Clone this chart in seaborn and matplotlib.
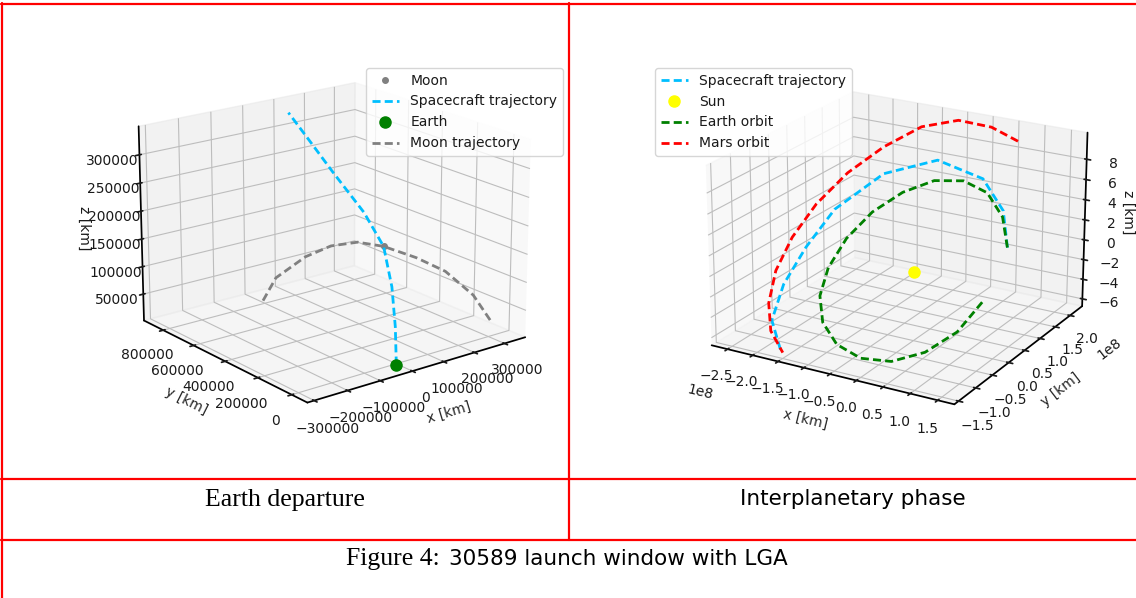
import matplotlib
matplotlib.use("Agg")
import matplotlib.pyplot as plt
from matplotlib.lines import Line2D
import numpy as np
import seaborn as sns

W, H = 1136, 598

# ---------------- Earth departure (km) ----------------
sc_x = [0, 63000, 118000, 140700, 152000, 129000, 122000, 137000]
sc_y = [0, 120000, 240000, 331400, 470000, 620000, 760000, 910000]
sc_z = [0, 40000, 87000, 145000, 188000, 248000, 294000, 323000]

moon_x = [-314900, -221600, -99200, -12600, 68700, 140700, 221600, 283700, 331400, 352100]
moon_y = [174500, 283700, 346100, 359800, 353400, 331400, 283700, 221700, 140700, 74800]
moon_z = [137000, 148000, 159000, 164000, 160000, 145000, 119000, 93000, 53000, 12000]

moon_pos = [140700, 331400, 145000]
earth_pos = [0, 0, 0]

# ---------------- Interplanetary phase ----------------
# heliocentric longitude [deg], radius [km], height (z axis units)
earth_th = [30, 50, 70, 90, 110, 130, 150, 170, 190, 210, 230, 250, 270, 290, 310, 330, 350]
earth_r = 1.50e8
earth_z = [2.2, 4.0, 5.4, 5.9, 5.6, 4.5, 3.0, 1.2, -0.6, -2.1, -3.4, -4.4, -4.9, -4.8, -4.0, -2.6, -0.5]

mars_th = [75, 90, 105, 120, 135, 150, 165, 180, 195, 210, 225, 240]
mars_r = [2.31e8, 2.37e8, 2.41e8, 2.44e8, 2.45e8, 2.44e8, 2.42e8, 2.38e8, 2.35e8, 2.32e8, 2.30e8, 2.28e8]
mars_z = [9.0, 9.6, 9.8, 9.0, 7.2, 5.2, 3.0, 0.9, -1.0, -2.7, -3.9, -4.6]

tr_th = [30, 50, 78, 110, 138, 162, 178, 195, 215, 238]
tr_r = [1.50e8, 1.51e8, 1.60e8, 1.75e8, 1.94e8, 2.08e8, 2.16e8, 2.22e8, 2.26e8, 2.28e8]
tr_z = [2.2, 4.6, 6.3, 7.1, 5.6, 2.8, 0.0, -2.3, -3.9, -4.6]

sun_pos = [0, 0, 0]


def polar_to_xy(th_deg, r):
    th = np.radians(th_deg)
    return np.asarray(r) * np.cos(th), np.asarray(r) * np.sin(th)


sns.set_theme(style="white", rc={
    "axes.grid": True,
    "grid.color": "#bdbdbd",
    "grid.linewidth": 0.8,
    "axes.edgecolor": "black",
    "text.color": "0.1",
    "xtick.color": "0.1",
    "ytick.color": "0.1",
    "xtick.bottom": True,
    "ytick.left": True,
    "font.size": 10,
    "xtick.labelsize": 10,
    "ytick.labelsize": 10,
    "axes.labelsize": 10,
    "legend.fontsize": 10,
})
plt.rcParams["font.family"] = ["DejaVu Sans"]

fig = plt.figure(figsize=(W / 100, H / 100), dpi=100)


def px_square(cx, cy, size):
    return [(cx - size / 2) / W, 1 - (cy + size / 2) / H, size / W, size / H]


LW = 2.0
DASH = (2.9, 1.5)

# ---- left panel ----
ax1 = fig.add_axes(px_square(327, 238, 428), projection="3d")
ax1.plot([moon_pos[0]], [moon_pos[1]], [moon_pos[2]], "o", color="gray", ms=4, label="Moon")
ax1.plot(sc_x, sc_y, sc_z, "--", dashes=DASH, color="deepskyblue", lw=LW, label="Spacecraft trajectory")
ax1.plot([earth_pos[0]], [earth_pos[1]], [earth_pos[2]], "o", color="green", ms=8, label="Earth")
ax1.plot(moon_x, moon_y, moon_z, "--", dashes=DASH, color="gray", lw=LW, label="Moon trajectory")
ax1.set_xlim(-320000, 370000)
ax1.set_ylim(-90000, 930000)
ax1.set_zlim(1500, 350000)
ax1.set_xticks(range(-300000, 300001, 100000))
ax1.set_yticks(range(0, 800001, 200000))
ax1.set_zticks(range(50000, 300001, 50000))
ax1.set_xlabel("x [km]")
ax1.set_ylabel("y [km]")
ax1.set_zlabel("")
ax1.view_init(elev=18.5, azim=-128)
ax1.grid(True)
ax1.legend(loc="upper right", bbox_to_anchor=(563 / W, 1 - 68 / H),
           bbox_transform=fig.transFigure, borderaxespad=0)
fig.text(84 / W, 1 - 228 / H, "z [km]", rotation=270, ha="center", va="center", fontsize=10)

# ---- right panel ----
ex, ey = polar_to_xy(earth_th, earth_r)
mx, my = polar_to_xy(mars_th, mars_r)
tx, ty = polar_to_xy(tr_th, tr_r)

ax2 = fig.add_axes(px_square(895, 244, 420), projection="3d")
ax2.set_box_aspect((4, 4, 2.75))
ax2.plot(tx, ty, tr_z, "--", dashes=DASH, color="deepskyblue", lw=LW, label="Spacecraft trajectory")
ax2.plot([sun_pos[0]], [sun_pos[1]], [sun_pos[2]], "o", color="yellow", ms=8, label="Sun")
ax2.plot(ex, ey, earth_z, "--", dashes=DASH, color="green", lw=LW, label="Earth orbit")
ax2.plot(mx, my, mars_z, "--", dashes=DASH, color="red", lw=LW, label="Mars orbit")
ax2.set_xlim(-2.82e8, 1.80e8)
ax2.set_ylim(-1.62e8, 2.42e8)
ax2.set_zlim(-6.75, 10.6)
ax2.set_xticks(np.arange(-2.5e8, 1.51e8, 0.5e8))
ax2.set_yticks(np.arange(-1.5e8, 2.01e8, 0.5e8))
ax2.set_zticks(range(-6, 9, 2))
ax2.set_xlabel("x [km]")
ax2.set_ylabel("y [km]")
ax2.set_zlabel("")
ax2.view_init(elev=21, azim=-60)
ax2.grid(True)
ax2.legend(loc="upper left", bbox_to_anchor=(655 / W, 1 - 68 / H),
           bbox_transform=fig.transFigure, borderaxespad=0)
fig.text(1128 / W, 1 - 212 / H, "z [km]", rotation=270, ha="center", va="center", fontsize=10)

# ---- table borders ----
red = "#ff0000"


def hline(y, x0, x1):
    fig.add_artist(Line2D([x0 / W, x1 / W], [1 - y / H, 1 - y / H],
                          transform=fig.transFigure, color=red, lw=1.6))


def vline(x, y0, y1):
    fig.add_artist(Line2D([x / W, x / W], [1 - y0 / H, 1 - y1 / H],
                          transform=fig.transFigure, color=red, lw=1.6))


hline(4, 1, W)
hline(478.5, 1, W)
hline(539.5, 1, W)
vline(2, 3, H)
vline(569, 3, 540)

# ---- captions ----
fig.text(285 / W, 1 - 506 / H, "Earth departure", ha="center", va="baseline",
         family="Liberation Serif", fontsize=18.5, color="black")
fig.text(853 / W, 1 - 505 / H, "Interplanetary phase", ha="center", va="baseline",
         family="DejaVu Sans", fontsize=15.5, color="black")
fig.text(346 / W, 1 - 565 / H, "Figure 4:", ha="left", va="baseline",
         family="Liberation Serif", fontsize=18.5, color="black")
fig.text(449 / W, 1 - 565 / H, "30589 launch window with LGA", ha="left", va="baseline",
         family="DejaVu Sans", fontsize=15.5, color="black")

fig.savefig("out.png", dpi=100)
